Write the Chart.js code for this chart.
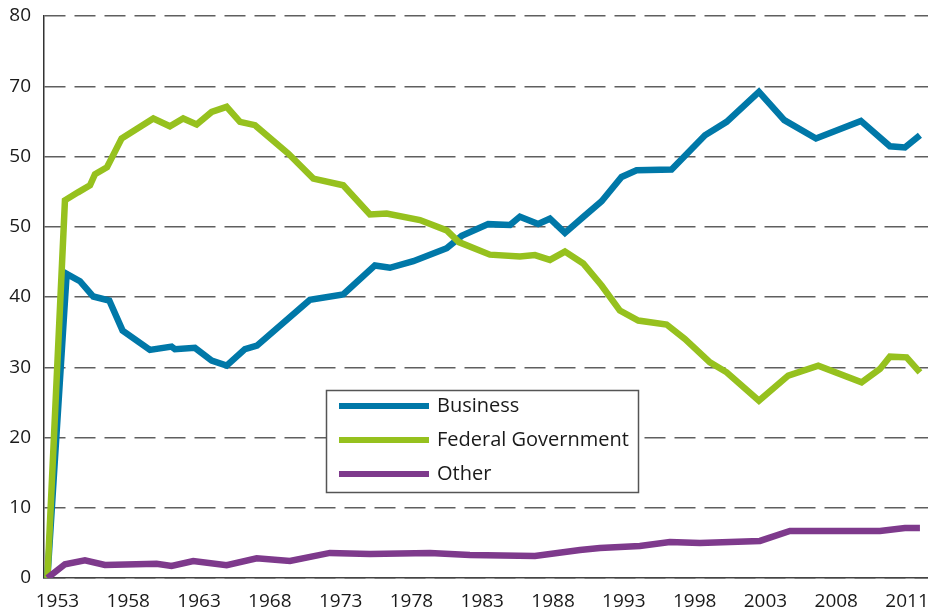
<!DOCTYPE html>
<html><head><meta charset="utf-8">
<script src="https://cdn.jsdelivr.net/npm/chart.js@4/dist/chart.umd.min.js"></script>
<style>html,body{margin:0;padding:0;background:#fff}canvas{display:block}</style>
</head><body>
<canvas id="c" width="928" height="616"></canvas>
<script>
// Positions along the time axis (axis years) and shares (%)
const businessYears = [1952.29,1953.65,1954.59,1955.53,1956.66,1957.60,1959.53,1961.06,1961.30,1962.71,1963.89,1964.95,1966.24,1967.09,1970.83,1973.18,1975.42,1976.48,1978.13,1980.49,1981.55,1983.42,1984.96,1985.66,1986.95,1987.78,1988.84,1990.13,1991.43,1992.84,1993.90,1996.37,1998.73,2000.26,2002.54,2004.33,2006.57,2009.74,2011.79,2012.85,2013.91];
const businessValues = [0,43.3,42.25,40.07,39.5,35.22,32.47,32.94,32.56,32.76,30.94,30.23,32.58,33.08,39.6,40.36,44.49,44.16,45.1,46.94,48.7,50.37,50.25,51.44,50.4,51.15,49.13,51.38,53.62,57.08,58.04,58.14,63.03,64.93,69.2,65.17,62.56,65.07,61.46,61.28,63.03];

const federalYears = [1952.29,1953.53,1954.45,1955.30,1955.65,1956.50,1957.53,1959.77,1960.94,1961.88,1962.83,1963.89,1964.95,1965.89,1966.95,1969.30,1971.07,1973.18,1975.07,1976.25,1978.60,1980.49,1981.35,1983.54,1985.66,1986.72,1987.78,1988.84,1990.13,1991.43,1992.72,1994.02,1996.02,1997.31,1999.08,2000.26,2002.54,2004.61,2006.73,2009.79,2011.09,2011.79,2012.97,2013.91];
const federalValues = [0,53.76,54.9,55.9,57.47,58.47,62.56,65.41,64.31,65.41,64.56,66.35,67.07,64.93,64.46,60.42,56.85,55.9,51.76,51.87,50.95,49.48,47.81,46.03,45.75,45.96,45.28,46.46,44.78,41.64,38.07,36.65,36.08,34.04,30.7,29.28,25.24,28.81,30.23,27.85,29.76,31.51,31.41,29.28];

const otherYears = [1952.29,1953.53,1954.94,1956.35,1960.0,1961.06,1962.59,1964.95,1967.07,1969.42,1972.24,1975.07,1979.31,1982.13,1986.72,1989.90,1991.31,1994.13,1996.25,1998.37,2002.61,2004.73,2011.09,2012.85,2013.91];
const otherValues = [0,1.95,2.52,1.85,2.04,1.71,2.42,1.81,2.81,2.42,3.57,3.42,3.57,3.28,3.14,3.99,4.28,4.56,5.13,4.99,5.28,6.7,6.7,7.13,7.13];

const seriesNames = ["Business","Federal Government","Other"];
const xTickYears = [1953,1958,1963,1968,1973,1978,1983,1988,1993,1998,2003,2008,2013];
const xTickLabels = ["1953","1958","1963","1968","1973","1978","1983","1988","1993","1998","2003","2008","2011"];
const yTickLabels = ["0","10","20","30","40","50","50","70","80"];

const colors = ["#0078a8","#96c11e","#7e3a8c"];
const FONT = '"Open Sans", "Noto Sans", sans-serif';

function pts(xs, ys){ return xs.map((x,i)=>({x:x, y:ys[i]})); }

const legendPlugin = {
  id: 'boxLegend',
  afterDatasetsDraw(chart) {
    const ctx = chart.ctx;
    ctx.save();
    ctx.fillStyle = '#fff';
    ctx.fillRect(326, 390, 313, 103);
    ctx.strokeStyle = '#555';
    ctx.lineWidth = 1.5;
    ctx.strokeRect(326.5, 390.5, 312, 102);
    chart.data.datasets.forEach((ds, i) => {
      const y = 406 + i * 34;
      ctx.strokeStyle = ds.borderColor;
      ctx.lineWidth = 6;
      ctx.lineCap = 'butt';
      ctx.beginPath();
      ctx.moveTo(339, y);
      ctx.lineTo(429, y);
      ctx.stroke();
      ctx.fillStyle = '#1a1a1a';
      ctx.font = '20px ' + FONT;
      ctx.textBaseline = 'middle';
      ctx.textAlign = 'left';
      ctx.fillText(ds.label, 437, y);
    });
    ctx.restore();
  }
};

const lineStyle = { borderWidth: 6.5, pointRadius: 0, tension: 0, borderJoinStyle: 'miter', borderCapStyle: 'butt', fill: false };

new Chart(document.getElementById('c'), {
  type: 'line',
  data: {
    datasets: [
      Object.assign({ label: seriesNames[0], data: pts(businessYears, businessValues), borderColor: colors[0], backgroundColor: colors[0], order: 3 }, lineStyle),
      Object.assign({ label: seriesNames[1], data: pts(federalYears, federalValues), borderColor: colors[1], backgroundColor: colors[1], order: 2 }, lineStyle),
      Object.assign({ label: seriesNames[2], data: pts(otherYears, otherValues), borderColor: colors[2], backgroundColor: colors[2], order: 1 }, lineStyle)
    ]
  },
  options: {
    responsive: false,
    animation: false,
    layout: { autoPadding: false, padding: { top: 16, right: 0, left: 0, bottom: 0 } },
    plugins: { legend: { display: false }, tooltip: { enabled: false } },
    scales: {
      x: {
        type: 'linear',
        min: 1952.05,
        max: 2014.48,
        afterFit: (s) => { s.height = 38; s.paddingLeft = 0; s.paddingRight = 0; },
        afterBuildTicks: (s) => { s.ticks = xTickYears.map(v => ({ value: v })); },
        grid: { display: false, drawTicks: false },
        border: { display: true, color: '#444', width: 1.5 },
        ticks: {
          autoSkip: false, maxRotation: 0, padding: 12,
          color: '#1a1a1a', font: { family: FONT, size: 19 },
          callback: (v, i) => xTickLabels[i]
        }
      },
      y: {
        min: 0, max: 80,
        afterFit: (s) => { s.width = 44; s.paddingTop = 0; s.paddingBottom = 0; },
        grid: { color: '#5f5f5f', lineWidth: 1.5, drawTicks: false },
        border: { display: true, color: '#333', width: 1.5, dash: [21, 9] },
        ticks: {
          stepSize: 10, padding: 13,
          color: '#1a1a1a', font: { family: FONT, size: 19 },
          callback: (v, i) => yTickLabels[i]
        }
      }
    }
  },
  plugins: [legendPlugin]
});
</script>
</body></html>
